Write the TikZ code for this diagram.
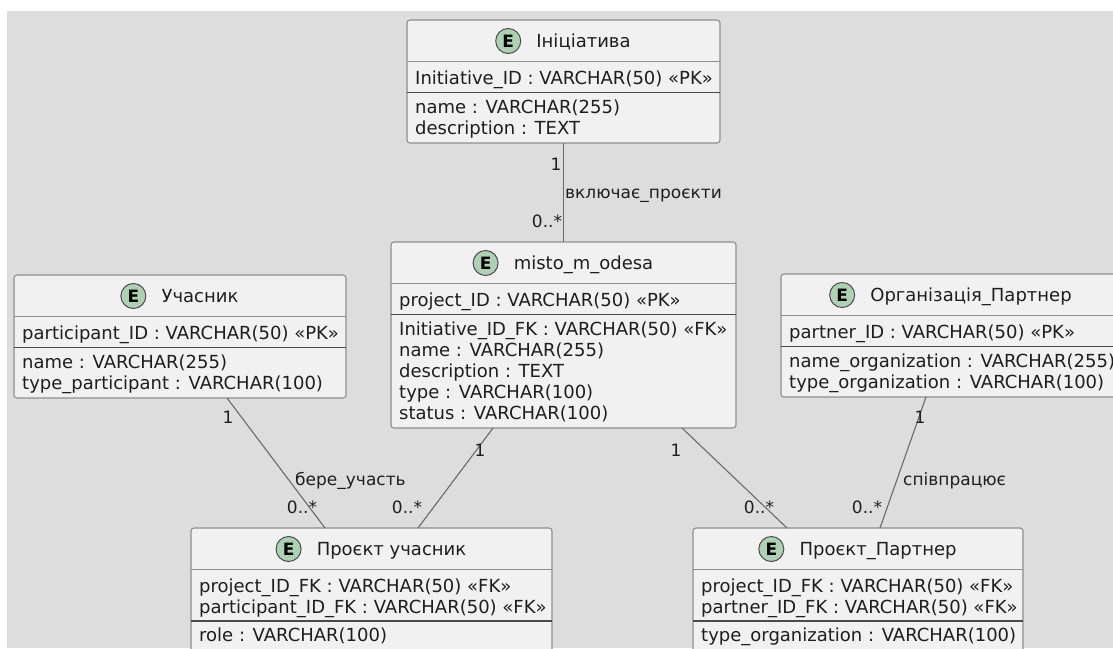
\documentclass[tikz,border=0pt]{standalone}
\usepackage{fontspec}
\setmainfont{DejaVu Sans}
\usetikzlibrary{calc}

\definecolor{canvas}{HTML}{DDDDDD}
\definecolor{boxfill}{HTML}{F1F1F1}
\definecolor{boxline}{HTML}{8E8E8E}
\definecolor{sepline}{HTML}{4A4A4A}
\definecolor{ink}{HTML}{1E1E1E}
\definecolor{spotfill}{HTML}{ADD1B2}
\definecolor{wire}{HTML}{6A6A6A}

\tikzset{
  entity/.style={rectangle, draw=boxline, fill=boxfill, line width=1.1pt,
    rounded corners=3pt, anchor=north west, inner sep=0pt, outer sep=0pt},
  headsep/.style={draw=boxline, line width=1pt},
  keysep/.style={draw=sepline, line width=1.3pt},
  field/.style={anchor=base west, inner sep=0pt, text=ink,
    font=\fontsize{18}{21}\selectfont},
  entitytitle/.style={anchor=base, inner sep=0pt, text=ink,
    font=\fontsize{18}{21}\selectfont},
  spot/.style={circle, draw=sepline, fill=spotfill, line width=1pt,
    minimum size=25pt, inner sep=0pt, text=black,
    font=\bfseries\fontsize{17}{17}\selectfont},
  rel/.style={draw=wire, line width=1.1pt},
  mult/.style={anchor=base, inner sep=0pt, text=ink,
    font=\fontsize{17}{20}\selectfont},
  rellabel/.style={anchor=base west, inner sep=0pt, text=ink,
    font=\fontsize{17}{20}\selectfont},
}

% #1 name, #2 left, #3 top, #4 width, #5 height, #6 title,
% #7 offset of the key separator, #8 key fields, #9 other fields
\newcommand\erentity[9]{%
  \node[entity, minimum width=#4, minimum height=#5] (#1) at (#2,#3) {};
  \draw[headsep] ($(#1.north west)+(0,41.5)$) -- ($(#1.north east)+(0,41.5)$);
  \draw[keysep] ($(#1.north west)+(0,#7)$) -- ($(#1.north east)+(0,#7)$);
  \node[entitytitle] (#1-title) at ($(#1.north)+(20,27)$) {#6};
  \node[spot] (#1-spot) at ($(#1-title.base west)+(-28,-6)$) {E};
  \foreach \fld [count=\i] in {#8}
    \node[field] (#1-k\i) at ($(#1.north west)+(8,43+21*\i)$) {\fld};
  \foreach \fld [count=\i] in {#9}
    \node[field] (#1-a\i) at ($(#1.north west)+(8,#7+21*\i-0.5)$) {\fld};
}

\begin{document}
\begin{tikzpicture}[x=1pt, y=-1pt]
  \useasboundingbox (0,0) rectangle (1113,648);
  \fill[canvas] (7,11) rectangle (1113,648);

  \erentity{ini}{407}{20}{313}{123}{Ініціатива}{72.5}
    {Initiative\_ID : VARCHAR(50) «PK»}
    {name : VARCHAR(255), description : TEXT}

  \erentity{misto}{391}{242}{345}{186}{misto\_m\_odesa}{72.5}
    {project\_ID : VARCHAR(50) «PK»}
    {Initiative\_ID\_FK : VARCHAR(50) «FK», name : VARCHAR(255),
     description : TEXT, type : VARCHAR(100), status : VARCHAR(100)}

  \erentity{uch}{14}{275}{332}{123}{Учасник}{72.5}
    {participant\_ID : VARCHAR(50) «PK»}
    {name : VARCHAR(255), type\_participant : VARCHAR(100)}

  \erentity{org}{781}{274}{340}{123}{Організація\_Партнер}{72.5}
    {partner\_ID : VARCHAR(50) «PK»}
    {name\_organization : VARCHAR(255), type\_organization : VARCHAR(100)}

  \erentity{pu}{191}{528}{361}{140}{Проєкт учасник}{93}
    {project\_ID\_FK : VARCHAR(50) «FK», participant\_ID\_FK : VARCHAR(50) «FK»}
    {role : VARCHAR(100)}

  \erentity{pp}{693}{528}{330}{140}{Проєкт\_Партнер}{93}
    {project\_ID\_FK : VARCHAR(50) «FK», partner\_ID\_FK : VARCHAR(50) «FK»}
    {type\_organization : VARCHAR(100)}

  % relationships
  \draw[rel] (ini.south) -- (misto.north);
  \node[mult] (r1a) at (556,170) {1};
  \node[mult] (r1b) at (547,227) {0..*};
  \node[rellabel] (r1l) at (565,198) {включає\_проєкти};

  \draw[rel] ($(uch.south west)+(213,0)$) -- ($(pu.north west)+(134,0)$);
  \node[mult] (r2a) at (228,423) {1};
  \node[mult] (r2b) at (302,513) {0..*};
  \node[rellabel] (r2l) at (295,485) {бере\_участь};

  \draw[rel] ($(misto.south west)+(102,0)$) -- ($(pu.north west)+(227,0)$);
  \node[mult] (r3a) at (480,456) {1};
  \node[mult] (r3b) at (407,513) {0..*};

  \draw[rel] ($(misto.south west)+(291,0)$) -- ($(pp.north west)+(94,0)$);
  \node[mult] (r4a) at (676,456) {1};
  \node[mult] (r4b) at (759,513) {0..*};

  \draw[rel] ($(org.south west)+(145,0)$) -- ($(pp.north west)+(187,0)$);
  \node[mult] (r5a) at (920,423) {1};
  \node[mult] (r5b) at (867,513) {0..*};
  \node[rellabel] (r5l) at (903,485) {співпрацює};
\end{tikzpicture}
\end{document}
